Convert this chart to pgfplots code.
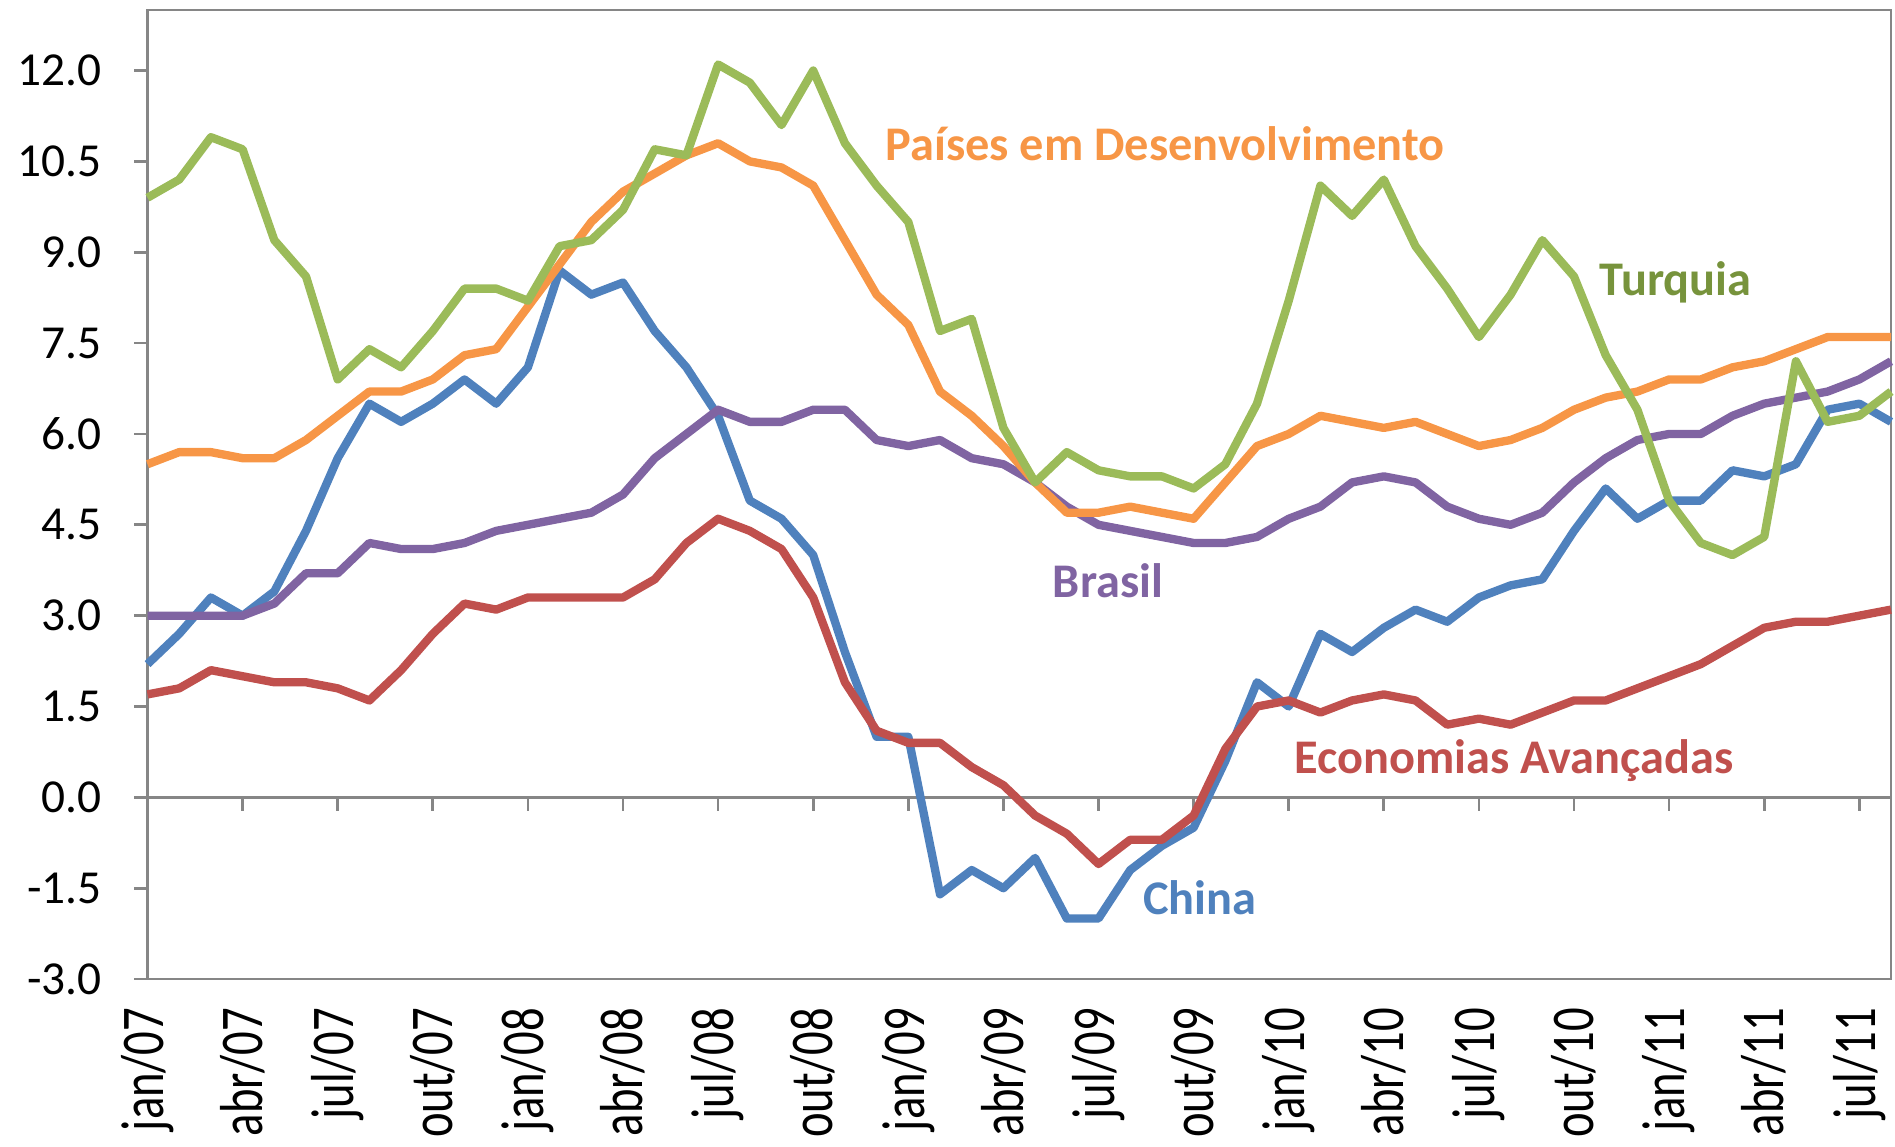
\documentclass[border=0pt]{standalone}
\usepackage{pgfplots}
\usepackage{pgfplotstable}
\pgfplotsset{compat=1.18}
\usepackage{fontspec}
\setmainfont{Carlito}
\definecolor{cchina}{HTML}{4F81BD}
\definecolor{cbrasil}{HTML}{8064A2}
\definecolor{cavan}{HTML}{C0504D}
\definecolor{cpaises}{HTML}{F79646}
\definecolor{cturq}{HTML}{9BBB59}
\definecolor{cturqlab}{HTML}{77933C}
\definecolor{caxis}{HTML}{868686}
\newcommand{\xl}[1]{\scalebox{1}[1.3]{#1}}
\pgfplotstableread{
m china brasil avan paises turq
0 2.2 3.0 1.7 5.5 9.9
1 2.7 3.0 1.8 5.7 10.2
2 3.3 3.0 2.1 5.7 10.9
3 3.0 3.0 2.0 5.6 10.7
4 3.4 3.2 1.9 5.6 9.2
5 4.4 3.7 1.9 5.9 8.6
6 5.6 3.7 1.8 6.3 6.9
7 6.5 4.2 1.6 6.7 7.4
8 6.2 4.1 2.1 6.7 7.1
9 6.5 4.1 2.7 6.9 7.7
10 6.9 4.2 3.2 7.3 8.4
11 6.5 4.4 3.1 7.4 8.4
12 7.1 4.5 3.3 8.1 8.2
13 8.7 4.6 3.3 8.8 9.1
14 8.3 4.7 3.3 9.5 9.2
15 8.5 5.0 3.3 10.0 9.7
16 7.7 5.6 3.6 10.3 10.7
17 7.1 6.0 4.2 10.6 10.6
18 6.3 6.4 4.6 10.8 12.1
19 4.9 6.2 4.4 10.5 11.8
20 4.6 6.2 4.1 10.4 11.1
21 4.0 6.4 3.3 10.1 12.0
22 2.4 6.4 1.9 9.2 10.8
23 1.0 5.9 1.1 8.3 10.1
24 1.0 5.8 0.9 7.8 9.5
25 -1.6 5.9 0.9 6.7 7.7
26 -1.2 5.6 0.5 6.3 7.9
27 -1.5 5.5 0.2 5.8 6.1
28 -1.0 5.2 -0.3 5.2 5.2
29 -2.0 4.8 -0.6 4.7 5.7
30 -2.0 4.5 -1.1 4.7 5.4
31 -1.2 4.4 -0.7 4.8 5.3
32 -0.8 4.3 -0.7 4.7 5.3
33 -0.5 4.2 -0.3 4.6 5.1
34 0.6 4.2 0.8 5.2 5.5
35 1.9 4.3 1.5 5.8 6.5
36 1.5 4.6 1.6 6.0 8.2
37 2.7 4.8 1.4 6.3 10.1
38 2.4 5.2 1.6 6.2 9.6
39 2.8 5.3 1.7 6.1 10.2
40 3.1 5.2 1.6 6.2 9.1
41 2.9 4.8 1.2 6.0 8.4
42 3.3 4.6 1.3 5.8 7.6
43 3.5 4.5 1.2 5.9 8.3
44 3.6 4.7 1.4 6.1 9.2
45 4.4 5.2 1.6 6.4 8.6
46 5.1 5.6 1.6 6.6 7.3
47 4.6 5.9 1.8 6.7 6.4
48 4.9 6.0 2.0 6.9 4.9
49 4.9 6.0 2.2 6.9 4.2
50 5.4 6.3 2.5 7.1 4.0
51 5.3 6.5 2.8 7.2 4.3
52 5.5 6.6 2.9 7.4 7.2
53 6.4 6.7 2.9 7.6 6.2
54 6.5 6.9 3.0 7.6 6.3
55 6.2 7.2 3.1 7.6 6.7
}\datatable
\begin{document}
\begin{tikzpicture}
\begin{axis}[name=ax, scale only axis, width=523pt, height=290.7pt,
  xmin=0, xmax=55, ymin=-3, ymax=13,
  axis line style={draw=caxis, line width=0.8pt},
  ytick={-3,-1.5,0,1.5,3,4.5,6,7.5,9,10.5,12},
  /pgf/number format/fixed, /pgf/number format/fixed zerofill, /pgf/number format/precision=1, /pgf/number format/assume math mode=true,
  yticklabel style={font=\fontsize{14.2}{17}\selectfont, inner sep=0pt, xshift=-9.6pt, anchor=east},
  ytick pos=left, tick align=outside, major tick length=4pt,
  ytick style={draw=caxis, line width=0.8pt},
  xtick={0,3,...,54},
  xticklabels={\xl{jan/07},\xl{abr/07},\xl{jul/07},\xl{out/07},\xl{jan/08},\xl{abr/08},\xl{jul/08},\xl{out/08},\xl{jan/09},\xl{abr/09},\xl{jul/09},\xl{out/09},\xl{jan/10},\xl{abr/10},\xl{jul/10},\xl{out/10},\xl{jan/11},\xl{abr/11},\xl{jul/11}},
  xtick style={draw=none},
  xticklabel style={font=\fontsize{14}{17}\selectfont, rotate=90, anchor=east, inner sep=0pt, xshift=-4.4pt},
  every axis plot/.append style={line width=2.5pt, line join=round, no markers},
  clip=false,
]
\draw[caxis, line width=0.8pt] (axis cs:0,0) -- (axis cs:55,0);
\pgfplotsinvokeforeach{3,6,...,54}{\draw[caxis, line width=0.8pt] (axis cs:#1,0) -- ([yshift=-4pt]axis cs:#1,0);}
\addplot[cchina] table[x=m,y=china] {\datatable};
\addplot[cbrasil] table[x=m,y=brasil] {\datatable};
\addplot[cavan] table[x=m,y=avan] {\datatable};
\addplot[cpaises] table[x=m,y=paises] {\datatable};
\addplot[cturq] table[x=m,y=turq] {\datatable};
\node[font=\fontsize{14.5}{17}\selectfont\bfseries, text=cpaises] at (axis cs:32.1,10.8) {Países em Desenvolvimento};
\node[font=\fontsize{14.5}{17}\selectfont\bfseries, text=cturqlab] at (axis cs:48.2,8.5) {Turquia};
\node[font=\fontsize{14.5}{17}\selectfont\bfseries, text=cbrasil] at (axis cs:30.3,3.57) {Brasil};
\node[font=\fontsize{14.5}{17}\selectfont\bfseries, text=cavan] at (axis cs:43.1,0.6) {Economias Avançadas};
\node[font=\fontsize{14.5}{17}\selectfont\bfseries, text=cchina] at (axis cs:33.2,-1.66) {China};
\end{axis}
\pgfresetboundingbox
\path ([shift={(-44.25pt,-50.1pt)}]ax.south west) rectangle ([shift={(1.2pt,3pt)}]ax.north east);
\end{tikzpicture}
\end{document}
